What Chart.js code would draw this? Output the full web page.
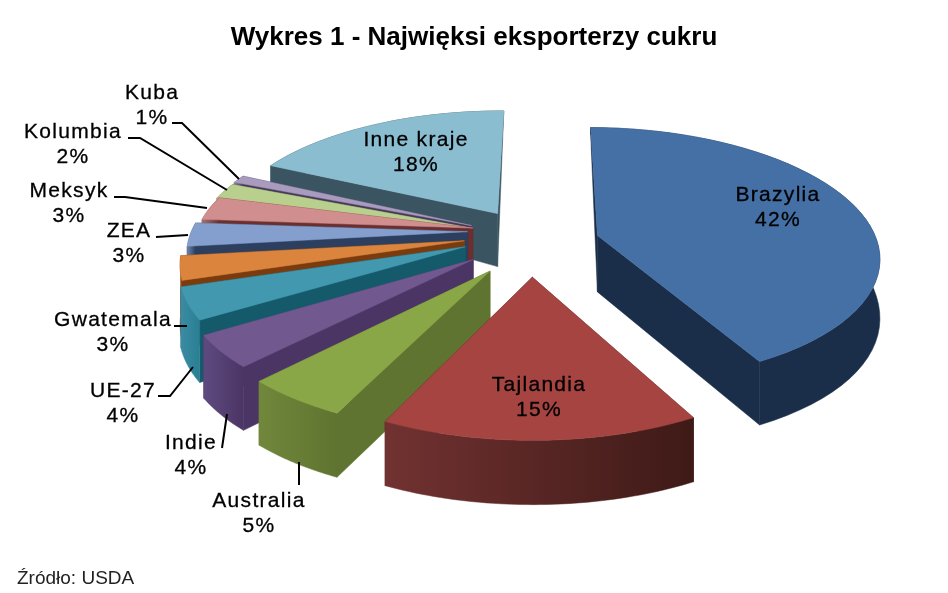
<!DOCTYPE html>
<html>
<head>
<meta charset="utf-8">
<style>
  html, body { margin: 0; padding: 0; background: #fff; }
  #wrap { width: 948px; height: 593px; }
</style>
<script src="https://cdn.jsdelivr.net/npm/chart.js@4"></script>
</head>
<body>
<div id="wrap"><canvas id="myPieChart" width="948" height="593"></canvas></div>
<script>
var categories = ['Brazylia', 'Tajlandia', 'Australia', 'Indie', 'UE-27', 'Gwatemala', 'ZEA', 'Meksyk', 'Kolumbia', 'Kuba', 'Inne kraje'];
var shares = [42, 15, 5, 4, 4, 3, 3, 3, 2, 1, 18];

// how far each slice is pulled out, in pie radii (sideways / towards the viewer)
var pullU = [0.243, 0.008, -0.138, -0.199, -0.23, -0.235, -0.226, -0.208, -0.216, -0.213, -0.12];
var pullV = [0.06, 0.38, 0.335, 0.249, 0.15, 0.103, 0.03, 0, 0, -0.02, -0.12];

var topColors = ['#4470a6', '#a64442', '#8aa748', '#71588f', '#4198af', '#db843d', '#849fcd', '#d08f8e', '#b8cf8e', '#a99bbd', '#8bbdd1'];
var sideColors = ['#1a2e4a', '#4e2120', '#5f7430', '#4b3565', '#155a6b', '#7a3c0e', '#2c3f5f', '#6b2f30', '#55602f', '#45385a', '#3a5561'];
var wallLeft = ['#1a2e4a', '#713231', '#71873b', '#5f4a80', '#3a8ba3', '#b56a2c', '#6c83aa', '#a87271', '#94a870', '#8a7ea0', '#3a5561'];
var wallRight = ['#1a2e4a', '#3e1a17', '#5f7430', '#4b3565', '#2a7f93', '#7a3c0e', '#2c3f5f', '#6b2f30', '#55602f', '#45385a', '#3a5561'];

// far slices first, near ones last
var drawOrder = [10, 9, 8, 7, 6, 5, 4, 3, 2, 0, 1];

var labelX = [778, 539, 259, 191, 123, 113, 129, 69, 73, 152, 416];
var labelY = [195, 385, 501, 443, 391, 320, 231, 191, 132, 93, 140];
var leaders = [
    null, null,
    [[299, 485], [299, 462]],
    [[222, 448], [227, 414]],
    [[158, 396], [170, 396], [193, 367]],
    [[174, 326], [187, 326]],
    [[156, 237], [188, 235]],
    [[114, 197], [125, 197], [207, 208]],
    [[128, 138], [140, 138], [227, 190]],
    [[172, 123], [182, 123], [239, 179]],
    null
];

// camera
var view = { cx: 530, cy: 228, sx: 275, sy: 122, persp: 0.15 };

function wallDepth(v) {
    return 65 * (1 - Math.exp(-1.92 * Math.max(0, v + 1)));
}

function project(u, v, down) {
    var w = 1 - v * view.persp;
    return {
        x: view.cx + u * view.sx / w,
        y: view.cy + v * view.sy / w + (down ? wallDepth(v) : 0)
    };
}

function sliceOutline(arc, i) {
    var p = arc.getProps(['startAngle', 'endAngle'], true);
    var rim = [];
    var steps = 48;
    for (var s = 0; s <= steps; s++) {
        var a = p.startAngle + (p.endAngle - p.startAngle) * s / steps;
        rim.push([Math.cos(a) + pullU[i], Math.sin(a) + pullV[i]]);
    }
    return { apex: [pullU[i], pullV[i]], rim: rim };
}

function fillPath(ctx, pts, fill) {
    ctx.beginPath();
    pts.forEach(function (pt, k) {
        if (k === 0) ctx.moveTo(pt.x, pt.y); else ctx.lineTo(pt.x, pt.y);
    });
    ctx.closePath();
    ctx.fillStyle = fill;
    ctx.fill();
    ctx.strokeStyle = fill;
    ctx.lineWidth = 0.5;
    ctx.stroke();
}

function drawSlice(ctx, arc, i) {
    var o = sliceOutline(arc, i);
    var apexTop = project(o.apex[0], o.apex[1], false);
    var apexBot = project(o.apex[0], o.apex[1], true);
    var rimTop = o.rim.map(function (q) { return project(q[0], q[1], false); });
    var rimBot = o.rim.map(function (q) { return project(q[0], q[1], true); });
    var last = o.rim.length - 1;

    fillPath(ctx, [apexTop, rimTop[0], rimBot[0], apexBot], sideColors[i]);
    fillPath(ctx, [apexTop, rimTop[last], rimBot[last], apexBot], sideColors[i]);

    var xs = rimTop.map(function (q) { return q.x; });
    var grad = ctx.createLinearGradient(Math.min.apply(null, xs), 0, Math.max.apply(null, xs), 0);
    grad.addColorStop(0, wallLeft[i]);
    grad.addColorStop(1, wallRight[i]);
    fillPath(ctx, rimTop.concat(rimBot.slice().reverse()), grad);

    fillPath(ctx, [apexTop].concat(rimTop), topColors[i]);
}

function drawLabels(ctx) {
    ctx.textAlign = 'center';
    ctx.textBaseline = 'middle';
    ctx.fillStyle = '#000';
    ctx.strokeStyle = '#000';
    ctx.lineWidth = 0.3;
    ctx.font = '21px "Liberation Sans"';
    ctx.letterSpacing = '1.3px';
    categories.forEach(function (name, i) {
        ctx.fillText(name, labelX[i], labelY[i]);
        ctx.strokeText(name, labelX[i], labelY[i]);
        ctx.fillText(shares[i] + '%', labelX[i], labelY[i] + 25);
        ctx.strokeText(shares[i] + '%', labelX[i], labelY[i] + 25);
    });
    ctx.letterSpacing = '0px';

    ctx.lineWidth = 2;
    leaders.forEach(function (line) {
        if (!line) return;
        ctx.beginPath();
        line.forEach(function (pt, k) {
            if (k === 0) ctx.moveTo(pt[0], pt[1]); else ctx.lineTo(pt[0], pt[1]);
        });
        ctx.stroke();
    });

    ctx.textAlign = 'left';
    ctx.font = '19px "Liberation Sans"';
    ctx.fillStyle = '#222';
    ctx.fillText('Źródło: USDA', 17, 579);
}

var tiltedPie = {
    id: 'tiltedPie',
    beforeDatasetsDraw: function (chart) {
        var ctx = chart.ctx;
        var arcs = chart.getDatasetMeta(0).data;
        ctx.save();
        drawOrder.forEach(function (i) { drawSlice(ctx, arcs[i], i); });
        drawLabels(ctx);
        ctx.restore();
        return false;
    }
};

var ctx = document.getElementById('myPieChart').getContext('2d');

var myPieChart = new Chart(ctx, {
    type: 'pie',
    data: {
        labels: categories,
        datasets: [{ data: shares, backgroundColor: topColors, borderWidth: 0 }]
    },
    options: {
        responsive: false,
        animation: false,
        rotation: 0.5,
        plugins: {
            legend: { display: false },
            tooltip: { enabled: false },
            title: {
                display: true,
                text: 'Wykres 1 - Najwięksi eksporterzy cukru',
                color: '#000',
                font: { family: '"Liberation Sans"', size: 26, weight: 'bold' },
                padding: { top: 22, bottom: 10 }
            }
        }
    },
    plugins: [tiltedPie]
});
</script>
</body>
</html>
